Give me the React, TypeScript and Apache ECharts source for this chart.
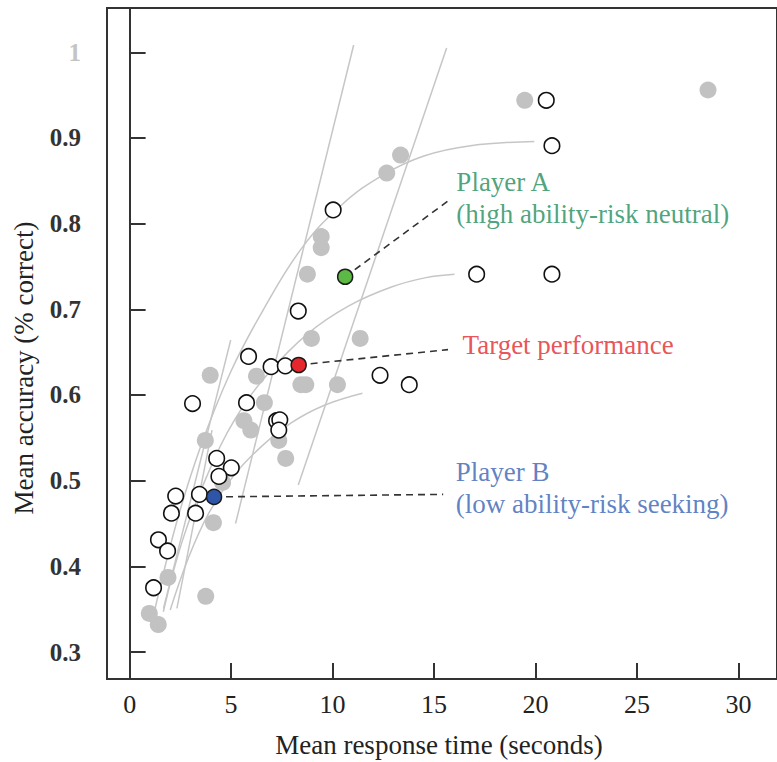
import React, { useEffect, useRef } from "react";
import * as echarts from "echarts";

// Axis ticks
const X_TICKS = [0, 5, 10, 15, 20, 25, 30];
const Y_TICKS = [0.3, 0.4, 0.5, 0.6, 0.7, 0.8, 0.9, 1];

// Visible axis window
const X_RANGE = [-1.115, 31.9];
const Y_RANGE = [0.2685, 1.0517];

// Players plotted as open circles: [mean response time, mean accuracy]
const openPlayers: number[][] = [
  [20.53, 0.944], [20.81, 0.891], [10.03, 0.816], [17.1, 0.741], [20.81, 0.741],
  [8.31, 0.698], [5.86, 0.645], [6.97, 0.633], [7.67, 0.634], [3.1, 0.59],
  [5.76, 0.591], [12.34, 0.623], [13.78, 0.612], [7.24, 0.57], [7.4, 0.571],
  [7.35, 0.559], [4.29, 0.526], [5.01, 0.515], [4.4, 0.505], [2.27, 0.482],
  [3.44, 0.484], [2.06, 0.462], [3.25, 0.462], [1.42, 0.431], [1.87, 0.418],
  [1.18, 0.375],
];

// Players plotted as grey dots
const greyPlayers: number[][] = [
  [19.47, 0.944], [28.5, 0.956], [13.35, 0.88], [12.67, 0.859], [9.44, 0.785],
  [9.44, 0.772], [8.76, 0.741], [8.96, 0.666], [11.36, 0.666], [3.97, 0.623],
  [6.25, 0.622], [8.44, 0.612], [8.68, 0.612], [10.24, 0.612], [6.64, 0.591],
  [5.63, 0.57], [5.97, 0.559], [3.73, 0.547], [7.35, 0.547], [7.69, 0.526],
  [4.58, 0.498], [4.13, 0.451], [1.89, 0.387], [3.75, 0.365], [0.97, 0.345],
  [1.41, 0.332],
];

// Highlighted players
const playerA = [10.62, 0.738];
const targetPerf = [8.33, 0.635];
const playerB = [4.16, 0.481];

// Where each leader line ends, next to its caption
const endA = [15.78, 0.828];
const endTarget = [15.69, 0.653];
const endB = [15.45, 0.484];

// Speed–accuracy trade-off curves (concave)
const curveHigh: number[][] = [
  [1.18, 0.343], [2.3, 0.45], [3.5, 0.54], [5.0, 0.628], [6.6, 0.7],
  [8.5, 0.772], [10.5, 0.823], [12.5, 0.857], [14.5, 0.879], [16.8, 0.891],
  [19.94, 0.896],
];
const curveMid: number[][] = [
  [1.66, 0.347], [2.6, 0.43], [3.8, 0.505], [5.2, 0.572], [6.9, 0.627],
  [8.8, 0.672], [10.8, 0.704], [12.9, 0.726], [14.6, 0.737], [16.01, 0.741],
];
const curveLow: number[][] = [
  [2.0, 0.349], [2.9, 0.41], [3.9, 0.462], [5.1, 0.505], [6.5, 0.54],
  [8.0, 0.568], [9.6, 0.588], [11.47, 0.602],
];

// Iso-lines (straight)
const isoLines: number[][][] = [
  [[11.04, 1.0085], [5.22, 0.45]],
  [[15.62, 1.005], [8.31, 0.495]],
  [[4.98, 0.664], [1.67, 0.351]],
  [[4.06, 0.559], [2.33, 0.351]],
];

const SERIF = '"Liberation Serif", "DejaVu Serif", serif';
const LINE_GREY = "#c6c6c6";
const INK = "#222";

export default function App() {
  const ref = useRef<HTMLDivElement>(null);

  useEffect(() => {
    if (!ref.current) return;
    const chart = echarts.init(ref.current, undefined, { renderer: "svg" });

    const greyLine = (data: number[][], smooth: number | boolean) => ({
      type: "line",
      data,
      smooth,
      showSymbol: false,
      silent: true,
      z: 1,
      lineStyle: { color: LINE_GREY, width: 1.5 },
    });

    const leader = (from: number[], to: number[]) => ({
      type: "line",
      data: [from, to],
      showSymbol: false,
      silent: true,
      z: 4,
      lineStyle: { color: "#333", width: 1.6, type: [7, 5] },
    });

    const highlight = (p: number[], color: string) => ({
      type: "scatter",
      data: [p],
      symbolSize: 15,
      silent: true,
      z: 6,
      itemStyle: { color, borderColor: "#1a1a1a", borderWidth: 1.5, opacity: 1 },
    });

    const caption = (
      p: number[],
      text: string,
      color: string,
      distance: number,
      dy: number
    ) => ({
      type: "scatter",
      data: [p],
      symbolSize: 1,
      silent: true,
      z: 7,
      itemStyle: { color: "rgba(0,0,0,0)" },
      label: {
        show: true,
        position: "right",
        distance,
        offset: [0, dy],
        formatter: text,
        color,
        fontSize: 27,
        lineHeight: 32,
        fontFamily: SERIF,
        align: "left",
      },
    });

    chart.setOption({
      animation: false,
      backgroundColor: "#fff",
      grid: {
        left: 107,
        top: 8,
        width: 690,
        height: 671,
        show: true,
        borderColor: "#333",
        borderWidth: 2,
        backgroundColor: "rgba(0,0,0,0)",
      },
      xAxis: {
        type: "value",
        min: X_RANGE[0],
        max: X_RANGE[1],
        splitLine: { show: false },
        axisLine: { show: true, lineStyle: { color: "#333", width: 2 } },
        axisTick: {
          show: true,
          inside: true,
          length: 16,
          customValues: X_TICKS,
          lineStyle: { color: "#333", width: 2 },
        },
        axisLabel: {
          customValues: X_TICKS,
          margin: 12,
          fontSize: 26,
          fontFamily: SERIF,
          color: INK,
        },
      },
      yAxis: {
        type: "value",
        min: Y_RANGE[0],
        max: Y_RANGE[1],
        splitLine: { show: false },
        axisLine: { show: true, lineStyle: { color: "#333", width: 2 } },
        axisTick: {
          show: true,
          inside: true,
          length: 16,
          customValues: Y_TICKS,
          lineStyle: { color: "#333", width: 2 },
        },
        axisLabel: {
          customValues: Y_TICKS,
          margin: 26,
          fontFamily: SERIF,
          formatter: (v: number) =>
            v === 1 ? "{top|1}" : "{n|" + v.toFixed(1) + "}",
          rich: {
            top: { fontSize: 25, fontWeight: "bold", color: "#c4c4c4", fontFamily: SERIF },
            n: { fontSize: 25, fontWeight: "bold", color: "#333", fontFamily: SERIF },
          },
        },
      },
      graphic: [
        {
          type: "text",
          x: 439,
          y: 745,
          silent: true,
          style: {
            text: "Mean response time (seconds)",
            fontSize: 27,
            fontFamily: SERIF,
            fill: INK,
            align: "center",
            verticalAlign: "middle",
          },
        },
        {
          type: "text",
          x: 24,
          y: 368,
          rotation: Math.PI / 2,
          silent: true,
          style: {
            text: "Mean accuracy (% correct)",
            fontSize: 27,
            fontFamily: SERIF,
            fill: INK,
            align: "center",
            verticalAlign: "middle",
          },
        },
      ],
      series: [
        greyLine(curveHigh, 0.4),
        greyLine(curveMid, 0.4),
        greyLine(curveLow, 0.4),
        ...isoLines.map((l) => greyLine(l, false)),
        {
          type: "scatter",
          data: greyPlayers,
          symbolSize: 17,
          silent: true,
          z: 2,
          itemStyle: { color: "#c2c2c2", opacity: 1 },
        },
        {
          type: "scatter",
          data: openPlayers,
          symbolSize: 15.5,
          silent: true,
          z: 3,
          itemStyle: { color: "#fff", borderColor: "#111", borderWidth: 1.6, opacity: 1 },
        },
        leader(playerA, endA),
        leader(targetPerf, endTarget),
        leader(playerB, endB),
        highlight(playerA, "#5cb946"),
        highlight(targetPerf, "#e5272d"),
        highlight(playerB, "#2f55a8"),
        caption(endA, "Player A\n(high ability-risk neutral)", "#1f8c5a", 6, -2),
        caption(endTarget, "Target performance", "#e3262c", 14, -5),
        caption(endB, "Player B\n(low ability-risk seeking)", "#3761b3", 12, -6),
      ],
    });

    return () => chart.dispose();
  }, []);

  return (
    <div
      ref={ref}
      style={{ position: "absolute", left: 0, top: 0, width: 777, height: 762 }}
    />
  );
}
